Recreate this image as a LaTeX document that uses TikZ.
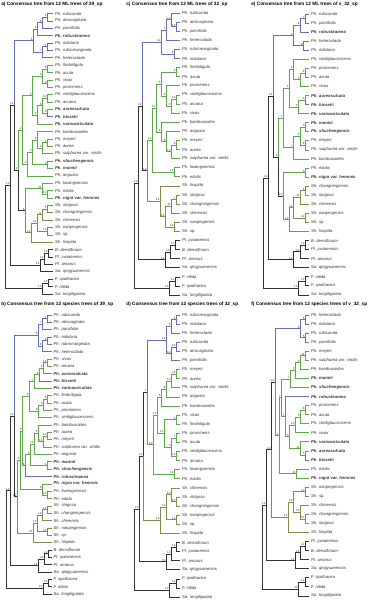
\documentclass[tikz,border=0pt]{standalone}
\usepackage{fontspec}
\setmainfont{Liberation Sans}
\definecolor{cblue}{HTML}{6670B8}
\definecolor{cgreen}{HTML}{5FA84A}
\definecolor{colive}{HTML}{8C8650}
\definecolor{cblack}{HTML}{333333}
\tikzset{
 cB/.style={draw=cblue}, cG/.style={draw=cgreen}, cO/.style={draw=colive}, cK/.style={draw=cblack},
 lf/.style={anchor=west, inner sep=0pt, font=\fontsize{4.2}{4.2}\selectfont\itshape, text=black!80},
 nlab/.style={anchor=south east, inner sep=0.15pt, font=\fontsize{3}{3}\selectfont, text=black!80},
 ttl/.style={anchor=west, inner sep=0pt, font=\fontsize{4.75}{4.75}\selectfont\bfseries}
}
\newcommand\SetP[4]{\def\curP{#1}\def\pTop{#2}\def\pSp{#3}\def\pTip{#4}}
\newcommand\LF[4]{%
 \pgfmathsetmacro\tmpy{\pTop+(#2-1)*\pSp}%
 \expandafter\xdef\csname ny@\curP#1\endcsname{\tmpy}%
 \expandafter\xdef\csname nc@\curP#1\endcsname{#4}%
 \coordinate (\curP#1) at (\pTip,\tmpy);%
 \node[lf] (\curP#1t) at ({\pTip+1.8},\tmpy) {#3};%
}
\newcommand\ND[6]{%
 \edef\ya{\csname ny@\curP#3\endcsname}\edef\yb{\csname ny@\curP#4\endcsname}%
 \pgfmathsetmacro\tmpy{(\ya+\yb)/2}%
 \expandafter\xdef\csname ny@\curP#1\endcsname{\tmpy}%
 \expandafter\xdef\csname nc@\curP#1\endcsname{#6}%
 \coordinate (\curP#1) at (#2,\tmpy);%
 \edef\tmp{\noexpand\draw[\csname nc@\curP#3\endcsname] (\curP#1) |- (\curP#3); \noexpand\draw[\csname nc@\curP#4\endcsname] (\curP#1) |- (\curP#4);}\tmp
 \node[nlab] at (\curP#1) {#5};%
}
\begin{document}
\begin{tikzpicture}[x=1pt,y=-1pt,line width=0.7pt]
\useasboundingbox (0,0) rectangle (374,600);
% ---------------- panel a
\begin{scope}
\node[ttl] (ta) at (1,4.5) {a) Consensus tree from 12 ML trees of 39\_sp};
\SetP{a}{13.5}{7.38}{53}
\LF{rub}{1}{Ph. rubicunda}{cB}
\LF{atr}{2}{Ph. atrovaginata}{cB}
\LF{par}{3}{Ph. parvifolia}{cB}
\LF{rob}{4}{\bfseries Ph. robustiramea}{cB}
\LF{nid}{5}{Ph. nidularia}{cB}
\LF{rbm}{6}{Ph. rubromarginata}{cB}
\LF{het}{7}{Ph. heteroclada}{cB}
\LF{fim}{8}{Ph. fimbriligula}{cG}
\LF{acu}{9}{Ph. acuta}{cG}
\LF{viv}{10}{Ph. vivax}{cG}
\LF{pro}{11}{Ph. prominens}{cG}
\LF{vir}{12}{Ph. viridiglaucescens}{cG}
\LF{arc}{13}{Ph. arcana}{cG}
\LF{aur}{14}{\bfseries Ph. aureosulcata}{cG}
\LF{bis}{15}{\bfseries Ph. bissetii}{cB}
\LF{var}{16}{\bfseries Ph. varioauriculata}{cG}
\LF{bam}{17}{Ph. bambusoides}{cG}
\LF{mey}{18}{Ph. meyeri}{cG}
\LF{aua}{19}{Ph. aurea}{cG}
\LF{sul}{20}{Ph. sulphurea var. viridis}{cG}
\LF{shu}{21}{\bfseries Ph. shuchengensis}{cG}
\LF{man}{22}{\bfseries Ph. mannii}{cG}
\LF{ang}{23}{Ph. angusta}{cG}
\LF{kwa}{24}{Ph. kwangsiensis}{cG}
\LF{edu}{25}{Ph. edulis}{cG}
\LF{nig}{26}{\bfseries Ph. nigra var. henonis}{cG}
\LF{str}{27}{Sh. strigosa}{cO}
\LF{cha}{28}{Sh. changningensis}{cO}
\LF{chi}{29}{Sh. chinensis}{cO}
\LF{nan}{30}{Sh. nanpingensis}{cO}
\LF{ssp}{31}{Sh. sp.}{cO}
\LF{his}{32}{Sh. hispida}{cO}
\LF{den}{33}{B. densiflorum}{cK}
\LF{jux}{34}{Pl. juxianensis}{cK}
\LF{ama}{35}{Pl. amarus}{cK}
\LF{qin}{36}{Sa. qingyuanensis}{cK}
\LF{spa}{37}{F. spathacea}{cK}
\LF{nit}{38}{F. nitida}{cK}
\LF{lon}{39}{Sa. longiligulata}{cK}
\ND{b1}{47}{rub}{atr}{4}{cB}
\ND{b2}{42}{b1}{par}{5}{cB}
\ND{b3}{37}{b2}{rob}{6}{cB}
\ND{b4}{47}{nid}{rbm}{5}{cB}
\ND{b5}{42}{b4}{het}{7}{cB}
\ND{bR}{33}{b3}{b5}{6}{cB}
\ND{g1}{47}{fim}{acu}{6}{cG}
\ND{g2}{47}{viv}{pro}{6}{cG}
\ND{g3}{42}{g1}{g2}{5}{cG}
\ND{g4}{47}{vir}{arc}{10}{cG}
\ND{g5}{47}{aur}{bis}{6}{cG}
\ND{g6}{42}{g4}{g5}{6}{cG}
\ND{g7}{37}{g6}{var}{4}{cG}
\ND{g8}{32}{g3}{g7}{5}{cG}
\ND{g9}{47}{mey}{aua}{6}{cG}
\ND{g10}{42}{g9}{sul}{3}{cG}
\ND{g11}{37}{bam}{g10}{3}{cG}
\ND{g12}{47}{shu}{man}{3}{cG}
\ND{g13}{32}{g11}{g12}{3}{cG}
\ND{g14}{27}{g13}{ang}{2}{cG}
\ND{gR}{22}{g8}{g14}{2}{cG}
\ND{k1}{47}{edu}{nig}{12}{cG}
\ND{k2}{42}{kwa}{k1}{11}{cG}
\ND{s1}{47}{str}{cha}{6}{cO}
\ND{s2}{42}{s1}{chi}{11}{cO}
\ND{s3}{47}{nan}{ssp}{12}{cO}
\ND{s4}{37}{s2}{s3}{12}{cO}
\ND{sR}{31}{s4}{his}{12}{cO}
\ND{KS}{25}{k2}{sR}{6}{cK}
\ND{D}{18}{gR}{KS}{2}{cK}
\ND{B}{14}{bR}{D}{12}{cK}
\ND{c1}{48}{den}{jux}{12}{cK}
\ND{c2}{44}{c1}{ama}{12}{cK}
\ND{c3}{40}{c2}{qin}{12}{cK}
\ND{A}{10}{B}{c3}{12}{cK}
\ND{f1}{48}{spa}{nit}{12}{cK}
\ND{f2}{42}{f1}{lon}{12}{cK}
\ND{R}{5}{A}{f2}{}{cK}
\end{scope}
% ---------------- panel b
\begin{scope}[shift={(0,300)}]
\node[ttl] (tb) at (1,4.5) {b) Consensus tree from 12 species trees of 39\_sp};
\SetP{b}{15}{7.342}{51.5}
\LF{rub}{1}{Ph. rubicunda}{cB}
\LF{atr}{2}{Ph. atrovaginata}{cB}
\LF{par}{3}{Ph. parvifolia}{cB}
\LF{nid}{4}{Ph. nidularia}{cB}
\LF{rbm}{5}{Ph. rubromarginata}{cB}
\LF{het}{6}{Ph. heteroclada}{cB}
\LF{viv}{7}{Ph. vivax}{cG}
\LF{arc}{8}{Ph. arcana}{cG}
\LF{aur}{9}{\bfseries Ph. aureosulcata}{cG}
\LF{bis}{10}{\bfseries Ph. bissetii}{cB}
\LF{var}{11}{\bfseries Ph. varioauriculata}{cG}
\LF{fim}{12}{Ph. fimbriligula}{cG}
\LF{acu}{13}{Ph. acuta}{cG}
\LF{pro}{14}{Ph. prominens}{cG}
\LF{vir}{15}{Ph. viridiglaucescens}{cG}
\LF{bam}{16}{Ph. bambusoides}{cG}
\LF{aua}{17}{Ph. aurea}{cG}
\LF{mey}{18}{Ph. meyeri}{cG}
\LF{sul}{19}{Ph. sulphurea var. viridis}{cG}
\LF{ang}{20}{Ph. angusta}{cG}
\LF{man}{21}{\bfseries Ph. mannii}{cG}
\LF{shu}{22}{\bfseries Ph. shuchengensis}{cG}
\LF{rob}{23}{\bfseries Ph. robustiramea}{cB}
\LF{nig}{24}{\bfseries Ph. nigra var. henonis}{cG}
\LF{kwa}{25}{Ph. kwangsiensis}{cG}
\LF{edu}{26}{Ph. edulis}{cG}
\LF{str}{27}{Sh. strigosa}{cO}
\LF{cha}{28}{Sh. changningensis}{cO}
\LF{chi}{29}{Sh. chinensis}{cO}
\LF{nan}{30}{Sh. nanpingensis}{cO}
\LF{ssp}{31}{Sh. sp.}{cO}
\LF{his}{32}{Sh. hispida}{cO}
\LF{den}{33}{B. densiflorum}{cK}
\LF{jux}{34}{Pl. juxianensis}{cK}
\LF{ama}{35}{Pl. amarus}{cK}
\LF{qin}{36}{Sa. qingyuanensis}{cK}
\LF{spa}{37}{F. spathacea}{cK}
\LF{nit}{38}{F. nitida}{cK}
\LF{lon}{39}{Sa. longiligulata}{cK}
\ND{b1}{47}{rub}{atr}{7}{cB}
\ND{b2}{42}{b1}{par}{7}{cB}
\ND{b3}{47}{nid}{rbm}{4}{cB}
\ND{b4}{42}{b3}{het}{3}{cB}
\ND{bR}{38}{b2}{b4}{8}{cB}
\ND{g1}{47}{viv}{arc}{12}{cG}
\ND{g2}{43}{g1}{aur}{5}{cG}
\ND{g3}{39}{g2}{bis}{6}{cG}
\ND{g4}{34}{g3}{var}{7}{cG}
\ND{g5}{47}{fim}{acu}{6}{cG}
\ND{g6}{43}{g5}{pro}{6}{cG}
\ND{g7}{38}{g6}{vir}{6}{cG}
\ND{g8}{29}{g4}{g7}{6}{cG}
\ND{g9}{47}{aua}{mey}{12}{cG}
\ND{g10}{43}{g9}{sul}{12}{cG}
\ND{g11}{38}{bam}{g10}{5}{cG}
\ND{g12}{34}{g11}{ang}{12}{cG}
\ND{g13}{47}{man}{shu}{2}{cG}
\ND{g14}{30}{g12}{g13}{3}{cG}
\ND{g15}{25}{g14}{rob}{8}{cG}
\ND{g16}{22}{g8}{g15}{5}{cG}
\ND{k1}{47}{kwa}{edu}{12}{cG}
\ND{k2}{42}{nig}{k1}{6}{cG}
\ND{gR}{20}{g16}{k2}{6}{cG}
\ND{s1}{47}{str}{cha}{12}{cO}
\ND{s2}{42}{s1}{chi}{12}{cO}
\ND{s3}{47}{nan}{ssp}{12}{cO}
\ND{s4}{37}{s2}{s3}{12}{cO}
\ND{sR}{33}{s4}{his}{12}{cO}
\ND{D}{17}{gR}{sR}{12}{cK}
\ND{B}{14}{bR}{D}{12}{cK}
\ND{c1}{48}{den}{jux}{12}{cK}
\ND{c2}{44}{c1}{ama}{12}{cK}
\ND{c3}{38}{c2}{qin}{12}{cK}
\ND{A}{10}{B}{c3}{12}{cK}
\ND{f1}{48}{spa}{nit}{12}{cK}
\ND{f2}{43}{f1}{lon}{12}{cK}
\ND{R}{6}{A}{f2}{}{cK}
\end{scope}
% ---------------- panel c
\begin{scope}[shift={(124,0)}]
\node[ttl] (tc) at (2,4.5) {c) Consensus tree from 12 ML trees of 32\_sp};
\SetP{c}{13}{9.1}{56}
\LF{rub}{1}{Ph. rubicunda}{cB}
\LF{atr}{2}{Ph. atrovaginata}{cB}
\LF{par}{3}{Ph. parvifolia}{cB}
\LF{het}{4}{Ph. heteroclada}{cB}
\LF{rbm}{5}{Ph. rubromarginata}{cB}
\LF{nid}{6}{Ph. nidularia}{cB}
\LF{fim}{7}{Ph. fimbriligula}{cG}
\LF{acu}{8}{Ph. acuta}{cG}
\LF{pro}{9}{Ph. prominens}{cG}
\LF{vir}{10}{Ph. viridiglaucescens}{cG}
\LF{arc}{11}{Ph. arcana}{cG}
\LF{viv}{12}{Ph. vivax}{cG}
\LF{bam}{13}{Ph. bambusoides}{cG}
\LF{ang}{14}{Ph. angusta}{cG}
\LF{mey}{15}{Ph. meyeri}{cG}
\LF{aua}{16}{Ph. aurea}{cG}
\LF{sul}{17}{Ph. sulphurea var. viridis}{cG}
\LF{kwa}{18}{Ph. kwangsiensis}{cG}
\LF{edu}{19}{Ph. edulis}{cG}
\LF{his}{20}{Sh. hispida}{cO}
\LF{str}{21}{Sh. strigosa}{cO}
\LF{cha}{22}{Sh. changningensis}{cO}
\LF{chi}{23}{Sh. chinensis}{cO}
\LF{nan}{24}{Sh. nanpingensis}{cO}
\LF{ssp}{25}{Sh. sp.}{cO}
\LF{jux}{26}{Pl. juxianensis}{cK}
\LF{den}{27}{B. densiflorum}{cK}
\LF{ama}{28}{Pl. amarus}{cK}
\LF{qin}{29}{Sa. qingyuanensis}{cK}
\LF{nit}{30}{F. nitida}{cK}
\LF{spa}{31}{F. spathacea}{cK}
\LF{lon}{32}{Sa. longiligulata}{cK}
\ND{b1}{52}{atr}{par}{12}{cB}
\ND{b2}{47}{rub}{b1}{12}{cB}
\ND{b3}{42}{b2}{het}{7}{cB}
\ND{b4}{50}{rbm}{nid}{8}{cB}
\ND{bR}{37}{b3}{b4}{12}{cB}
\ND{g1}{52}{fim}{acu}{4}{cG}
\ND{g2}{52}{vir}{arc}{12}{cG}
\ND{g3}{47}{g2}{viv}{5}{cG}
\ND{g4}{42}{pro}{g3}{6}{cG}
\ND{g5}{37}{g1}{g4}{5}{cG}
\ND{g6}{52}{mey}{aua}{6}{cG}
\ND{g7}{47}{g6}{sul}{12}{cG}
\ND{g8}{42}{ang}{g7}{8}{cG}
\ND{g9}{37}{bam}{g8}{4}{cG}
\ND{g10}{32}{g5}{g9}{12}{cG}
\ND{k1}{50}{kwa}{edu}{12}{cG}
\ND{gR}{28}{g10}{k1}{12}{cG}
\ND{s1}{52}{str}{cha}{7}{cO}
\ND{s2}{47}{s1}{chi}{11}{cO}
\ND{s3}{50}{nan}{ssp}{12}{cO}
\ND{s4}{41}{s2}{s3}{12}{cO}
\ND{sR}{36}{his}{s4}{12}{cO}
\ND{D}{23}{gR}{sR}{12}{cK}
\ND{B}{18}{bR}{D}{12}{cK}
\ND{c1}{51}{jux}{den}{12}{cK}
\ND{c2}{46}{c1}{ama}{10}{cK}
\ND{c3}{41}{c2}{qin}{12}{cK}
\ND{A}{14}{B}{c3}{12}{cK}
\ND{f1}{51}{nit}{spa}{12}{cK}
\ND{f2}{45}{f1}{lon}{12}{cK}
\ND{R}{10}{A}{f2}{}{cK}
\end{scope}
% ---------------- panel d
\begin{scope}[shift={(124,300)}]
\node[ttl] (td) at (2,4.5) {d) Consensus tree from 12 species trees of 32\_sp};
\SetP{d}{15}{9.1}{56}
\LF{rbm}{1}{Ph. rubromarginata}{cB}
\LF{nid}{2}{Ph. nidularia}{cB}
\LF{het}{3}{Ph. heteroclada}{cB}
\LF{rub}{4}{Ph. rubicunda}{cB}
\LF{atr}{5}{Ph. atrovaginata}{cB}
\LF{par}{6}{Ph. parvifolia}{cB}
\LF{mey}{7}{Ph. meyeri}{cG}
\LF{aua}{8}{Ph. aurea}{cG}
\LF{sul}{9}{Ph. sulphurea var. viridis}{cG}
\LF{ang}{10}{Ph. angusta}{cG}
\LF{bam}{11}{Ph. bambusoides}{cG}
\LF{viv}{12}{Ph. vivax}{cG}
\LF{fim}{13}{Ph. fimbriligula}{cG}
\LF{pro}{14}{Ph. prominens}{cG}
\LF{acu}{15}{Ph. acuta}{cG}
\LF{vir}{16}{Ph. viridiglaucescens}{cG}
\LF{arc}{17}{Ph. arcana}{cG}
\LF{kwa}{18}{Ph. kwangsiensis}{cG}
\LF{edu}{19}{Ph. edulis}{cG}
\LF{chi}{20}{Sh. chinensis}{cO}
\LF{str}{21}{Sh. strigosa}{cO}
\LF{cha}{22}{Sh. changningensis}{cO}
\LF{nan}{23}{Sh. nanpingensis}{cO}
\LF{ssp}{24}{Sh. sp.}{cO}
\LF{his}{25}{Sh. hispida}{cO}
\LF{den}{26}{B. densiflorum}{cK}
\LF{jux}{27}{Pl. juxianensis}{cK}
\LF{ama}{28}{Pl. amarus}{cK}
\LF{qin}{29}{Sa. qingyuanensis}{cK}
\LF{spa}{30}{F. spathacea}{cK}
\LF{nit}{31}{F. nitida}{cK}
\LF{lon}{32}{Sa. longiligulata}{cK}
\ND{b1}{52}{rbm}{nid}{6}{cB}
\ND{b2}{47}{b1}{het}{8}{cB}
\ND{b3}{52}{rub}{atr}{12}{cB}
\ND{b4}{47}{b3}{par}{12}{cB}
\ND{bR}{42}{b2}{b4}{12}{cB}
\ND{g1}{52}{mey}{aua}{12}{cG}
\ND{g2}{47}{g1}{sul}{10}{cG}
\ND{g3}{42}{g2}{ang}{6}{cG}
\ND{g4}{37}{g3}{bam}{6}{cG}
\ND{g5}{52}{viv}{fim}{4}{cG}
\ND{g6}{52}{pro}{acu}{7}{cG}
\ND{g7}{52}{vir}{arc}{12}{cG}
\ND{g8}{47}{g6}{g7}{5}{cG}
\ND{g9}{40}{g5}{g8}{12}{cG}
\ND{g10}{33}{g4}{g9}{12}{cG}
\ND{k1}{50}{kwa}{edu}{12}{cG}
\ND{gR}{29}{g10}{k1}{12}{cG}
\ND{X}{23}{bR}{gR}{7}{cK}
\ND{s1}{52}{str}{cha}{12}{cO}
\ND{s2}{47}{chi}{s1}{12}{cO}
\ND{s3}{52}{nan}{ssp}{12}{cO}
\ND{s4}{42}{s2}{s3}{12}{cO}
\ND{sR}{36}{s4}{his}{12}{cO}
\ND{Y}{19}{X}{sR}{12}{cK}
\ND{c1}{52}{den}{jux}{12}{cK}
\ND{c2}{47}{c1}{ama}{12}{cK}
\ND{c3}{42}{c2}{qin}{12}{cK}
\ND{A}{15}{Y}{c3}{12}{cK}
\ND{f1}{52}{spa}{nit}{12}{cK}
\ND{f2}{45}{f1}{lon}{12}{cK}
\ND{R}{10}{A}{f2}{}{cK}
\end{scope}
% ---------------- panel e
\begin{scope}[shift={(248,0)}]
\node[ttl] (te) at (3,4.5) {e) Consensus tree from 12 ML trees of v\_32\_sp};
\SetP{e}{14}{9.06}{61}
\LF{rub}{1}{Ph. rubicunda}{cB}
\LF{par}{2}{Ph. parvifolia}{cB}
\LF{rob}{3}{\bfseries Ph. robustiramea}{cB}
\LF{het}{4}{Ph. heteroclada}{cB}
\LF{nid}{5}{Ph. nidularia}{cB}
\LF{vir}{6}{Ph. viridiglaucescens}{cG}
\LF{pro}{7}{Ph. prominens}{cG}
\LF{acu}{8}{Ph. acuta}{cG}
\LF{viv}{9}{Ph. vivax}{cG}
\LF{aur}{10}{\bfseries Ph. aureosulcata}{cG}
\LF{bis}{11}{\bfseries Ph. bissetii}{cB}
\LF{var}{12}{\bfseries Ph. varioauriculata}{cG}
\LF{man}{13}{\bfseries Ph. mannii}{cG}
\LF{shu}{14}{\bfseries Ph. shuchengensis}{cG}
\LF{mey}{15}{Ph. meyeri}{cG}
\LF{sul}{16}{Ph. sulphurea var. viridis}{cG}
\LF{bam}{17}{Ph. bambusoides}{cG}
\LF{edu}{18}{Ph. edulis}{cG}
\LF{nig}{19}{\bfseries Ph. nigra var. henonis}{cG}
\LF{cha}{20}{Sh. changningensis}{cO}
\LF{str}{21}{Sh. strigosa}{cO}
\LF{chi}{22}{Sh. chinensis}{cO}
\LF{nan}{23}{Sh. nanpingensis}{cO}
\LF{ssp}{24}{Sh. sp.}{cO}
\LF{his}{25}{Sh. hispida}{cO}
\LF{den}{26}{B. densiflorum}{cK}
\LF{jux}{27}{Pl. juxianensis}{cK}
\LF{ama}{28}{Pl. amarus}{cK}
\LF{qin}{29}{Sa. qingyuanensis}{cK}
\LF{nit}{30}{F. nitida}{cK}
\LF{spa}{31}{F. spathacea}{cK}
\LF{lon}{32}{Sa. longiligulata}{cK}
\ND{b1}{57}{rub}{par}{7}{cB}
\ND{b2}{52}{b1}{rob}{9}{cB}
\ND{b3}{55}{het}{nid}{9}{cB}
\ND{bR}{45}{b2}{b3}{2}{cB}
\ND{g1}{57}{pro}{acu}{8}{cG}
\ND{g2}{52}{g1}{viv}{3}{cG}
\ND{g3}{45}{vir}{g2}{3}{cG}
\ND{g4}{57}{aur}{bis}{4}{cG}
\ND{g5}{50}{g4}{var}{4}{cG}
\ND{g6}{41}{g3}{g5}{3}{cG}
\ND{g7}{57}{man}{shu}{3}{cG}
\ND{g8}{57}{mey}{sul}{8}{cG}
\ND{g9}{52}{g7}{g8}{5}{cG}
\ND{g10}{45}{g9}{bam}{7}{cG}
\ND{gR}{35}{g6}{g10}{1}{cG}
\ND{k1}{57}{edu}{nig}{5}{cG}
\ND{s1}{57}{cha}{str}{6}{cO}
\ND{s2}{52}{s1}{chi}{11}{cO}
\ND{s3}{57}{nan}{ssp}{12}{cO}
\ND{s4}{45}{s2}{s3}{12}{cO}
\ND{sR}{41}{s4}{his}{12}{cO}
\ND{KS}{35}{k1}{sR}{12}{cK}
\ND{D}{30}{gR}{KS}{6}{cK}
\ND{B}{25}{bR}{D}{12}{cK}
\ND{c1}{57}{den}{jux}{12}{cK}
\ND{c2}{52}{c1}{ama}{12}{cK}
\ND{c3}{45}{c2}{qin}{12}{cK}
\ND{A}{20}{B}{c3}{12}{cK}
\ND{f1}{57}{nit}{spa}{12}{cK}
\ND{f2}{50}{f1}{lon}{12}{cK}
\ND{R}{15}{A}{f2}{}{cK}
\end{scope}
% ---------------- panel f
\begin{scope}[shift={(248,300)}]
\node[ttl] (tf) at (3,4.5) {f) Consensus tree from 12 species trees of v\_32\_sp};
\SetP{f}{15}{9.06}{61}
\LF{het}{1}{Ph. heteroclada}{cB}
\LF{nid}{2}{Ph. nidularia}{cB}
\LF{rub}{3}{Ph. rubicunda}{cB}
\LF{par}{4}{Ph. parvifolia}{cB}
\LF{mey}{5}{Ph. meyeri}{cG}
\LF{sul}{6}{Ph. sulphurea var. viridis}{cG}
\LF{bam}{7}{Ph. bambusoides}{cG}
\LF{man}{8}{\bfseries Ph. mannii}{cG}
\LF{shu}{9}{\bfseries Ph. shuchengensis}{cG}
\LF{rob}{10}{\bfseries Ph. robustiramea}{cB}
\LF{pro}{11}{Ph. prominens}{cG}
\LF{acu}{12}{Ph. acuta}{cG}
\LF{vir}{13}{Ph. viridiglaucescens}{cG}
\LF{viv}{14}{Ph. vivax}{cG}
\LF{var}{15}{\bfseries Ph. varioauriculata}{cG}
\LF{aur}{16}{\bfseries Ph. aureosulcata}{cG}
\LF{bis}{17}{\bfseries Ph. bissetii}{cB}
\LF{edu}{18}{Ph. edulis}{cG}
\LF{nig}{19}{\bfseries Ph. nigra var. henonis}{cG}
\LF{nan}{20}{Sh. nanpingensis}{cO}
\LF{ssp}{21}{Sh. sp.}{cO}
\LF{chi}{22}{Sh. chinensis}{cO}
\LF{cha}{23}{Sh. changningensis}{cO}
\LF{str}{24}{Sh. strigosa}{cO}
\LF{his}{25}{Sh. hispida}{cO}
\LF{jux}{26}{Pl. juxianensis}{cK}
\LF{den}{27}{B. densiflorum}{cK}
\LF{ama}{28}{Pl. amarus}{cK}
\LF{qin}{29}{Sa. qingyuanensis}{cK}
\LF{spa}{30}{F. spathacea}{cK}
\LF{nit}{31}{F. nitida}{cK}
\LF{lon}{32}{Sa. longiligulata}{cK}
\ND{b1}{57}{het}{nid}{5}{cB}
\ND{b2}{57}{rub}{par}{5}{cB}
\ND{bR}{52}{b1}{b2}{8}{cB}
\ND{g1}{57}{mey}{sul}{11}{cG}
\ND{g2}{52}{g1}{bam}{4}{cG}
\ND{g3}{47}{g2}{man}{4}{cG}
\ND{g4}{42}{g3}{shu}{7}{cG}
\ND{g5}{57}{pro}{acu}{8}{cG}
\ND{g6}{52}{g5}{vir}{6}{cG}
\ND{g7}{47}{g6}{viv}{10}{cG}
\ND{g8}{57}{aur}{bis}{5}{cG}
\ND{g9}{52}{var}{g8}{11}{cG}
\ND{g10}{41}{g7}{g9}{3}{cG}
\ND{g11}{37}{rob}{g10}{1}{cG}
\ND{g12}{33}{g4}{g11}{7}{cG}
\ND{k1}{48}{edu}{nig}{11}{cG}
\ND{gR}{31}{g12}{k1}{12}{cG}
\ND{X}{27}{bR}{gR}{12}{cK}
\ND{s1}{57}{nan}{ssp}{12}{cO}
\ND{s2}{57}{cha}{str}{12}{cO}
\ND{s3}{52}{chi}{s2}{12}{cO}
\ND{s4}{45}{s1}{s3}{12}{cO}
\ND{sR}{40}{s4}{his}{12}{cO}
\ND{Y}{23}{X}{sR}{12}{cK}
\ND{c1}{57}{jux}{den}{12}{cK}
\ND{c2}{52}{c1}{ama}{12}{cK}
\ND{c3}{47}{c2}{qin}{12}{cK}
\ND{A}{18}{Y}{c3}{12}{cK}
\ND{f1}{57}{spa}{nit}{12}{cK}
\ND{f2}{50}{f1}{lon}{11}{cK}
\ND{R}{14}{A}{f2}{}{cK}
\end{scope}
\end{tikzpicture}
\end{document}
